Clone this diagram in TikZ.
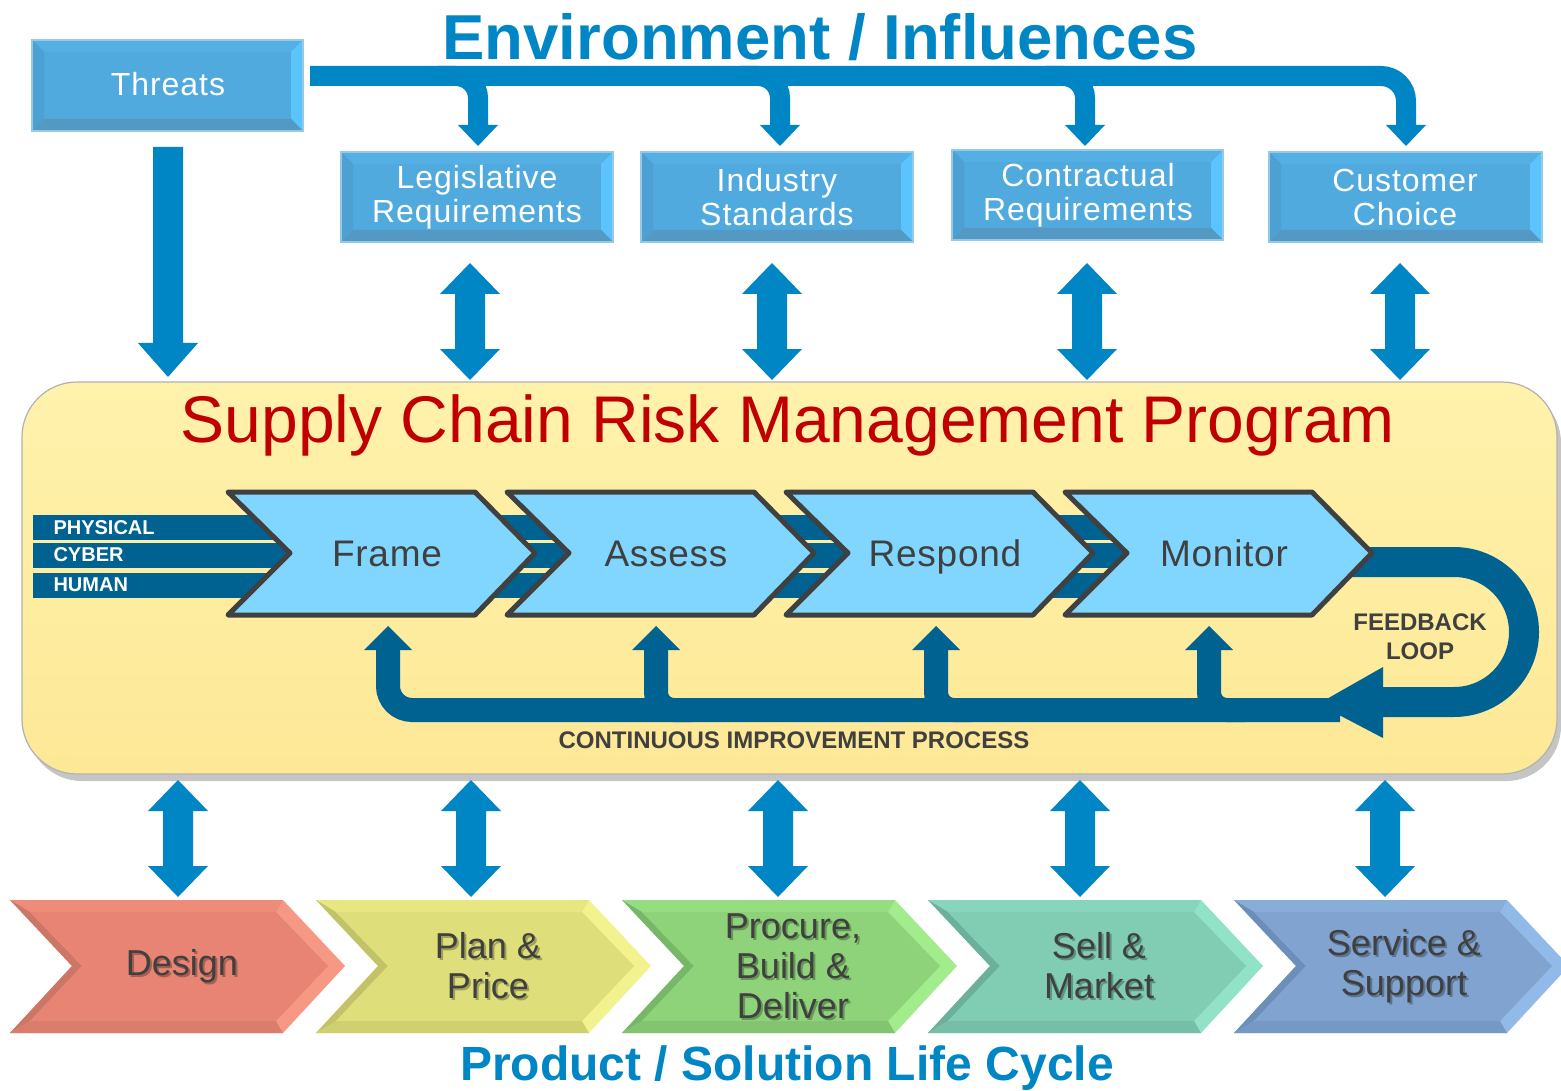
\documentclass[tikz,border=0pt]{standalone}
\usepackage{fontspec}
\setmainfont{Liberation Sans}
\usetikzlibrary{calc}
\definecolor{midblue}{RGB}{0,134,196}
\definecolor{darkblue}{RGB}{0,98,145}
\definecolor{txtgray}{RGB}{64,64,64}
\definecolor{redtitle}{RGB}{192,0,0}
\definecolor{paneltop}{RGB}{255,242,172}
\definecolor{panelbot}{RGB}{253,232,150}
\definecolor{chevfill}{RGB}{128,214,255}
\definecolor{bxmain}{RGB}{80,170,222}
\definecolor{bxtop}{RGB}{84,176,228}
\definecolor{bxright}{RGB}{92,196,252}
\definecolor{bxbot}{RGB}{84,152,196}
\definecolor{bxleft}{RGB}{76,160,210}
\definecolor{bxedge}{RGB}{150,200,232}
% life cycle colours: base, light, dark
\definecolor{dsB}{RGB}{232,132,115}\definecolor{dsL}{RGB}{246,152,132}\definecolor{dsD}{RGB}{204,118,104}
\definecolor{plB}{RGB}{222,222,122}\definecolor{plL}{RGB}{242,242,142}\definecolor{plD}{RGB}{194,194,104}
\definecolor{prB}{RGB}{142,210,122}\definecolor{prL}{RGB}{162,236,142}\definecolor{prD}{RGB}{120,182,104}
\definecolor{seB}{RGB}{128,205,180}\definecolor{seL}{RGB}{146,226,200}\definecolor{seD}{RGB}{108,176,156}
\definecolor{svB}{RGB}{128,164,207}\definecolor{svL}{RGB}{146,186,232}\definecolor{svD}{RGB}{108,142,184}

\newcommand\bevbox[4]{%
  \fill[bxmain] (#1,#2) rectangle (#3,#4);
  \fill[bxtop] (#1,#2) -- (#3,#2) -- (#3-12,#2+12) -- (#1+12,#2+12) -- cycle;
  \fill[bxright] (#3,#2) -- (#3,#4) -- (#3-12,#4-12) -- (#3-12,#2+12) -- cycle;
  \fill[bxbot] (#1,#4) -- (#3,#4) -- (#3-12,#4-12) -- (#1+12,#4-12) -- cycle;
  \fill[bxleft] (#1,#2) -- (#1,#4) -- (#1+12,#4-12) -- (#1+12,#2+12) -- cycle;
  \draw[bxedge,line width=2] (#1,#2) rectangle (#3,#4);
}
% double block arrow: cx, top, bottom
\newcommand\dblarrow[3]{%
  \fill[midblue] (#1,#2) -- (#1+30,#2+31) -- (#1+15,#2+31) -- (#1+15,#3-31) -- (#1+30,#3-31)
    -- (#1,#3) -- (#1-30,#3-31) -- (#1-15,#3-31) -- (#1-15,#2+31) -- (#1-30,#2+31) -- cycle;
}
% life-cycle chevron: left x, base, light, dark
\newcommand\lifechev[4]{%
  \fill[#3] (#1,900) -- (#1+273,900) -- (#1+335,966) -- (#1+273,1033) -- (#1,1033) -- (#1+62,966) -- cycle;
  \fill[#2!60!#3] (#1,900) -- (#1+273,900) -- (#1+266,912) -- (#1+20,912) -- cycle;
  \fill[#4] (#1,900) -- (#1+62,966) -- (#1+72,966) -- (#1+20,912) -- cycle;
  \fill[#4] (#1,1033) -- (#1+62,966) -- (#1+72,966) -- (#1+20,1021) -- cycle;
  \fill[#2!50!#4] (#1,1033) -- (#1+273,1033) -- (#1+266,1021) -- (#1+20,1021) -- cycle;
  \fill[#2] (#1+20,912) -- (#1+266,912) -- (#1+318,966) -- (#1+266,1021) -- (#1+20,1021) -- (#1+72,966) -- cycle;
}
% process chevron: left x
\newcommand\procchev[1]{%
  \draw[procstyle] (#1,492) -- (#1+247,492) -- (#1+307,553) -- (#1+247,615) -- (#1,615) -- (#1+62,553) -- cycle;
}
\newcommand\uphead[1]{\fill[darkblue] (#1-24,650) -- (#1+24,650) -- (#1,626) -- cycle;}
\newcommand\downhead[1]{\fill[midblue] (#1-20,125) -- (#1+20,125) -- (#1,146) -- cycle;}
% life-cycle label with soft shadow: name, x, y, text
\newcommand\lifelabel[4]{%
  \node[lifetext,text=black,opacity=0.28] (#1sh) at (#2+2,#3+2) {#4};
  \node[lifetext] (#1) at (#2,#3) {#4};
}

\begin{document}
\begin{tikzpicture}[x=1pt,y=-1pt,
  boxtext/.style={text=white,align=center,font=\fontsize{32}{34}\selectfont\addfontfeature{LetterSpace=3}},
  lifetext/.style={text=txtgray,align=center,font=\fontsize{36}{40}\selectfont},
  proctext/.style={text=txtgray,anchor=base,font=\fontsize{37}{40}\selectfont\addfontfeature{LetterSpace=2}},
  bandtext/.style={text=white,anchor=west,font=\bfseries\fontsize{20}{22}\selectfont},
  looptext/.style={text=txtgray,align=center,font=\bfseries\fontsize{24}{29}\selectfont},
  procstyle/.style={fill=chevfill,draw=txtgray,line width=5,line join=round},
  band/.style={fill=darkblue}
]
\useasboundingbox (0,0) rectangle (1561,1091);
\clip (0,0) rectangle (1561,1091);
\fill[white] (0,0) rectangle (1561,1091);

% ---------- titles ----------
\node[text=midblue,font=\bfseries\fontsize{63.5}{70}\selectfont] (envtitle) at (820,37) {Environment / Influences};
\node[text=midblue,font=\bfseries\fontsize{48}{52}\selectfont] (lifetitle) at (787,1068) {Product / Solution Life Cycle};

% ---------- top boxes ----------
\bevbox{32}{40}{303}{131}
\node[boxtext] (threats) at (168,84) {Threats};
\bevbox{341}{152}{613}{242}
\node[boxtext] (legis) at (477,197) {Legislative\\Requirements};
\bevbox{641}{152}{913}{242}
\node[boxtext] (industry) at (777,197) {Industry\\Standards};
\bevbox{952}{150}{1223}{240}
\node[boxtext] (contract) at (1088,195) {Contractual\\Requirements};
\bevbox{1269}{152}{1542}{242}
\node[boxtext] (customer) at (1405,197) {Customer\\Choice};

% ---------- top connector bar ----------
\draw[midblue,line width=20,rounded corners=25] (310,76) -- (1406,76) -- (1406,127);
\foreach \x in {478,780,1085}{
  \draw[midblue,line width=20,rounded corners=22] (\x-40,76) -- (\x,76) -- (\x,127);
  \downhead{\x}
}
\downhead{1406}

% threats arrow
\fill[midblue] (153,147) -- (183,147) -- (183,343) -- (198,343) -- (168,377) -- (138,343) -- (153,343) -- cycle;

% double arrows top
\dblarrow{470}{263}{380}
\dblarrow{772}{263}{380}
\dblarrow{1087}{263}{380}
\dblarrow{1400}{263}{380}

% ---------- panel ----------
\fill[black!45,opacity=0.5] (27,388) [rounded corners=55] rectangle (1561,781);
\shade[top color=paneltop,bottom color=panelbot,rounded corners=55] (22,382) rectangle (1557,774);
\draw[black!30,line width=1.2,rounded corners=55] (22,382) rectangle (1557,774);
\node[text=redtitle,font=\fontsize{66}{70}\selectfont] (scrm) at (788,425) {Supply Chain Risk Management Program};

% bands
\fill[band] (33,515) rectangle (1200,540);
\fill[band] (33,543) rectangle (1200,568);
\fill[band] (33,573) rectangle (1200,598);
\node[bandtext] (physical) at (50,528) {PHYSICAL};
\node[bandtext] (cyber) at (50,555) {CYBER};
\node[bandtext] (human) at (50,585) {HUMAN};

% feedback loop
\draw[darkblue,line width=30,rounded corners=70] (1320,562) -- (1524,562) -- (1524,702) -- (1380,702);
\fill[darkblue] (1383,667) -- (1383,738) -- (1318,704) -- cycle;
\draw[darkblue,line width=24,rounded corners=24] (1340,710) -- (388,710) -- (388,648);
\uphead{388}
\foreach \x in {656,936,1209}{
  \draw[darkblue,line width=24,rounded corners=18] (\x+36,710) -- (\x,710) -- (\x,648);
  \uphead{\x}
}
\node[looptext] (feedback) at (1420,637) {FEEDBACK\\LOOP};
\node[text=txtgray,font=\bfseries\fontsize{24}{26}\selectfont] (cip) at (794,740) {CONTINUOUS IMPROVEMENT PROCESS};

% process chevrons
\procchev{1065}
\procchev{786}
\procchev{507}
\procchev{228}
\node[proctext] (frame) at (387,566) {Frame};
\node[proctext] (assess) at (666,566) {Assess};
\node[proctext] (respond) at (945,566) {Respond};
\node[proctext] (monitor) at (1224,566) {Monitor};

% bottom double arrows
\dblarrow{178}{780}{897}
\dblarrow{471}{780}{897}
\dblarrow{778}{780}{897}
\dblarrow{1080}{780}{897}
\dblarrow{1385}{780}{897}

% ---------- life cycle ----------
\lifechev{10}{dsB}{dsL}{dsD}
\lifechev{316}{plB}{plL}{plD}
\lifechev{622}{prB}{prL}{prD}
\lifechev{928}{seB}{seL}{seD}
\lifechev{1234}{svB}{svL}{svD}
\lifelabel{design}{182}{966}{Design}
\lifelabel{plan}{488}{966}{Plan \&\\Price}
\lifelabel{procure}{793}{966}{Procure,\\Build \&\\Deliver}
\lifelabel{sell}{1099}{966}{Sell \&\\Market}
\lifelabel{service}{1404}{966}{Service \&\\Support}
\end{tikzpicture}
\end{document}
